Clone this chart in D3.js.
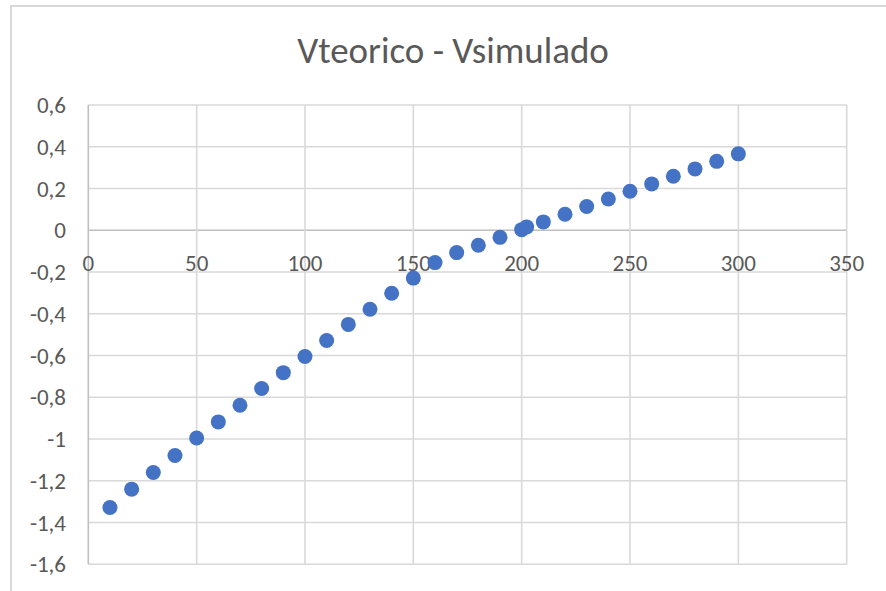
<!DOCTYPE html>
<html>
<head>
<meta charset="utf-8">
<script src="https://cdn.jsdelivr.net/npm/d3@7"></script>
<style>
  html, body { margin: 0; padding: 0; background: #fff; }
  svg { display: block; }
  text { font-family: Carlito, "Open Sans", "Liberation Sans", sans-serif; fill: #595959; }
</style>
</head>
<body>
<svg id="chart" width="886" height="591"></svg>
<script>
// Series: corriente (x) vs diferencia Vteorico - Vsimulado (y)
const xValues = [10, 20, 30, 40, 50, 60, 70, 80, 90, 100, 110, 120, 130, 140, 150,
                 160, 170, 180, 190, 200, 202.3, 210, 220, 230, 240, 250, 260, 270, 280, 290, 300];
const yValues = [-1.328, -1.240, -1.160, -1.079, -0.995, -0.918, -0.838, -0.758, -0.682, -0.605,
                 -0.528, -0.451, -0.378, -0.302, -0.229, -0.155, -0.107, -0.072, -0.034, 0.003,
                 0.016, 0.040, 0.077, 0.114, 0.150, 0.187, 0.222, 0.259, 0.294, 0.330, 0.366];
const xTicks = [0, 50, 100, 150, 200, 250, 300, 350];
const yTicks = [0.6, 0.4, 0.2, 0, -0.2, -0.4, -0.6, -0.8, -1, -1.2, -1.4, -1.6];
const chartTitle = "Vteorico - Vsimulado";

const svg = d3.select("#chart");
const W = 886, H = 591;

// Outer chart frame
svg.append("rect")
  .attr("x", 11).attr("y", 6)
  .attr("width", W + 10).attr("height", H + 10)
  .attr("fill", "#fff").attr("stroke", "#d9d9d9").attr("stroke-width", 2);

const x = d3.scaleLinear().domain([0, 350]).range([88.3, 846.7]);
const y = d3.scaleLinear().domain([-1.6, 0.6]).range([564.3, 105]);

const fmt = v => String(+v.toFixed(1)).replace(".", ",");

// Horizontal gridlines
svg.append("g")
  .selectAll("line").data(yTicks).join("line")
  .attr("x1", x(0)).attr("x2", x(350))
  .attr("y1", d => y(d)).attr("y2", d => y(d))
  .attr("stroke", d => d === 0 ? "#bfbfbf" : "#d9d9d9")
  .attr("stroke-width", 1.6);

// Vertical gridlines
svg.append("g")
  .selectAll("line").data(xTicks).join("line")
  .attr("x1", d => x(d)).attr("x2", d => x(d))
  .attr("y1", y(0.6)).attr("y2", y(-1.6))
  .attr("stroke", d => d === 0 ? "#bfbfbf" : "#d9d9d9")
  .attr("stroke-width", 1.6);

// Y tick labels
svg.append("g")
  .selectAll("text").data(yTicks).join("text")
  .attr("x", 66).attr("y", d => y(d))
  .attr("dy", "0.35em")
  .attr("text-anchor", "end")
  .attr("font-size", 23)
  .text(d => fmt(d));

// X tick labels, sitting just below the zero line
svg.append("g")
  .selectAll("text").data(xTicks).join("text")
  .attr("x", d => x(d)).attr("y", y(0) + 33)
  .attr("dy", "0.35em")
  .attr("text-anchor", "middle")
  .attr("font-size", 23)
  .text(d => d);

// Data points
svg.append("g")
  .selectAll("circle").data(xValues.map((v, i) => [v, yValues[i]])).join("circle")
  .attr("cx", d => x(d[0])).attr("cy", d => y(d[1]))
  .attr("r", 7.5)
  .attr("fill", "#4472c4");

// Title
svg.append("text")
  .attr("x", 453).attr("y", 50)
  .attr("dy", "0.35em")
  .attr("text-anchor", "middle")
  .attr("font-size", 37)
  .text(chartTitle);
</script>
</body>
</html>
